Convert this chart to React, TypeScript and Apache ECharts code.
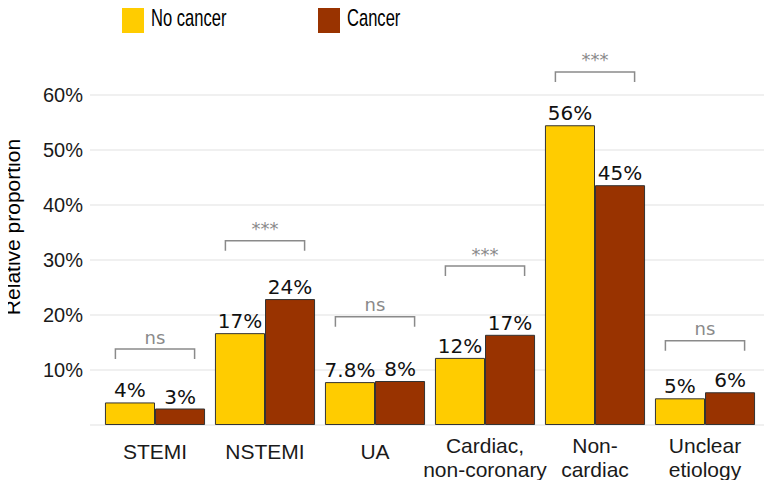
import React, { useEffect, useRef } from "react";
import * as echarts from "echarts";

const categories = ["STEMI", "NSTEMI", "UA", "Cardiac,\nnon-coronary", "Non-\ncardiac", "Unclear\netiology"];
const seriesNames = ["No cancer", "Cancer"];
const seriesColors = ["#FFCC00", "#993300"];
const noCancer = [4.1, 16.7, 7.8, 12.2, 54.5, 4.85];
const cancer = [3.0, 22.9, 8.0, 16.4, 43.6, 5.95];
const noCancerLabels = ["4%", "17%", "7.8%", "12%", "56%", "5%"];
const cancerLabels = ["3%", "24%", "8%", "17%", "45%", "6%"];
const sigLevels = [13.8, 33.5, 19.7, 28.9, 64.2, 15.3];
const sigLabels = ["ns", "***", "ns", "***", "***", "ns"];
const yTicks = [0, 10, 20, 30, 40, 50, 60];

export default function App() {
  const ref = useRef<HTMLDivElement>(null);
  useEffect(() => {
    if (!ref.current) return;
    const chart = echarts.init(ref.current, null, { renderer: "svg" });
    const axisFont = "'Liberation Sans', Arial, Helvetica, sans-serif";
    const labelFont = "'DejaVu Sans', sans-serif";
    const legendX = [122, 318];
    const legendItems: any[] = [];
    seriesNames.forEach((name, i) => {
      legendItems.push({
        type: "rect",
        shape: { x: legendX[i], y: 1, width: 22, height: 32 },
        style: { fill: seriesColors[i] },
      });
      legendItems.push({
        type: "text",
        x: legendX[i] + 29,
        y: 17,
        scaleX: 0.69,
        style: {
          text: name,
          font: `24px ${axisFont}`,
          fill: "#000",
          align: "left",
          verticalAlign: "middle",
        },
      });
    });
    chart.setOption({
      animation: false,
      backgroundColor: "#ffffff",
      grid: { left: 100, right: 12, top: 95, bottom: 63, containLabel: false },
      graphic: [
        ...legendItems,
        {
          type: "text",
          x: 12,
          y: 227,
          rotation: Math.PI / 2,
          style: {
            text: "Relative proportion",
            font: `21px ${axisFont}`,
            fill: "#000",
            align: "center",
            verticalAlign: "middle",
          },
        },
      ],
      xAxis: {
        type: "category",
        data: categories,
        axisLine: { show: false },
        axisTick: { show: false },
        axisLabel: {
          fontFamily: axisFont,
          fontSize: 21,
          color: "#1a1a1a",
          margin: 8,
          interval: 0,
          formatter: (v: string) =>
            v.indexOf("\n") >= 0
              ? v.split("\n").map((s) => `{m|${s}}`).join("\n")
              : `{s|${v}}`,
          rich: {
            m: { fontFamily: axisFont, fontSize: 21, lineHeight: 24, color: "#1a1a1a" },
            s: { fontFamily: axisFont, fontSize: 21, lineHeight: 36, color: "#1a1a1a" },
          },
        },
      },
      yAxis: {
        type: "value",
        min: yTicks[0],
        max: yTicks[yTicks.length - 1],
        interval: 10,
        axisLine: { show: false },
        axisTick: { show: false },
        splitLine: { show: false },
        axisLabel: {
          fontFamily: axisFont,
          fontSize: 20,
          color: "#1a1a1a",
          margin: 17,
          formatter: (v: number) => (v === 0 ? "" : `${v}%`),
        },
      },
      series: [
        {
          name: "grid",
          type: "custom",
          clip: false,
          silent: true,
          z: 0,
          data: yTicks.map((v) => [0, v]),
          renderItem: (params: any, api: any) => {
            const cs = params.coordSys;
            const y = api.coord([0, api.value(1)])[1];
            return {
              type: "line",
              shape: { x1: cs.x - 10, y1: y, x2: cs.x + cs.width + 10, y2: y },
              style: { stroke: "#ebebeb", lineWidth: 1.5 },
            };
          },
        },
        {
          name: seriesNames[0],
          type: "bar",
          data: noCancer,
          barGap: "0%",
          barCategoryGap: "9%",
          itemStyle: { color: seriesColors[0], borderColor: "#333", borderWidth: 1 },
          label: {
            show: true,
            position: "top",
            distance: 2,
            fontFamily: labelFont,
            fontSize: 20,
            color: "#111",
            formatter: (p: any) => noCancerLabels[p.dataIndex],
          },
        },
        {
          name: seriesNames[1],
          type: "bar",
          data: cancer,
          barGap: "0%",
          barCategoryGap: "9%",
          itemStyle: { color: seriesColors[1], borderColor: "#333", borderWidth: 1 },
          label: {
            show: true,
            position: "top",
            distance: 2,
            fontFamily: labelFont,
            fontSize: 20,
            color: "#111",
            formatter: (p: any) => cancerLabels[p.dataIndex],
          },
        },
        {
          name: "sig",
          type: "custom",
          clip: false,
          silent: true,
          data: sigLevels.map((v, i) => [i, v]),
          renderItem: (params: any, api: any) => {
            const c = api.coord([api.value(0), api.value(1)]);
            const bw = api.size([1, 0])[0];
            const half = bw * 0.36;
            const tick = 10;
            return {
              type: "group",
              children: [
                {
                  type: "polyline",
                  shape: {
                    points: [
                      [c[0] - half, c[1] + tick],
                      [c[0] - half, c[1]],
                      [c[0] + half, c[1]],
                      [c[0] + half, c[1] + tick],
                    ],
                  },
                  style: { stroke: "#8a8a8a", lineWidth: 1.5, fill: null },
                },
                {
                  type: "text",
                  x: c[0],
                  y: c[1] - 3,
                  style: {
                    text: sigLabels[params.dataIndex],
                    font: `18px ${labelFont}`,
                    fill: "#8a8a8a",
                    align: "center",
                    verticalAlign: "bottom",
                  },
                },
              ],
            };
          },
        },
      ],
    });
    return () => chart.dispose();
  }, []);
  return <div ref={ref} style={{ width: 772, height: 488, margin: -8 }} />;
}
